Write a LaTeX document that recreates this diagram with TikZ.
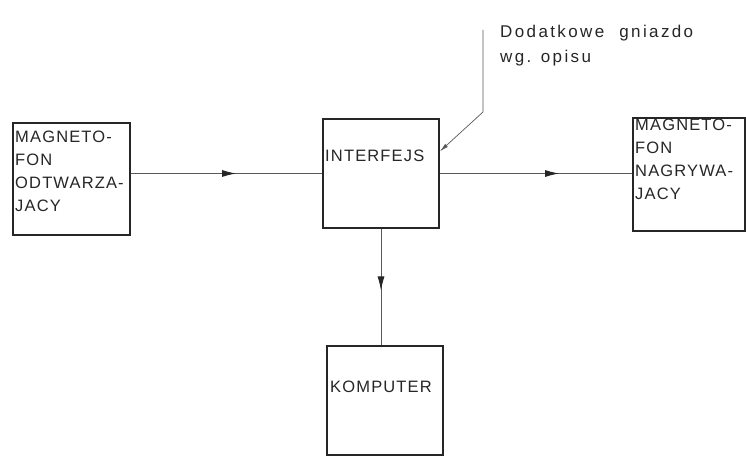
\documentclass[tikz,border=0pt]{standalone}
\usepackage{fontspec}
\setmainfont{Liberation Sans}[LetterSpace=7]
\usetikzlibrary{arrows.meta,decorations.markings}

\begin{document}
\begin{tikzpicture}[x=1pt,y=-1pt,
  box/.style={draw=black!85,line width=1.6pt,inner sep=0pt},
  lbl/.style={anchor=base west,inner sep=0pt,align=left,text=black!85,font=\fontsize{16.5}{23}\selectfont},
  wire/.style={draw=black!65,line width=0.9pt},
  midarrow/.style={postaction={decorate},decoration={markings,
    mark=at position #1 with {\arrow[black!85]{Latex[length=14pt,width=7pt]}}}}]
\useasboundingbox (0,0) rectangle (746,457);
%\draw[help lines,step=50] (0,0) grid (746,457);
% bloki
\node [box,minimum width=117pt,minimum height=112pt] (odtw) at (71.5,179) {};
\node [box,minimum width=116pt,minimum height=109pt] (interfejs) at (381,173.5) {};
\node [box,minimum width=112pt,minimum height=113pt] (nagr) at (689,174.5) {};
\node [box,minimum width=116pt,minimum height=109pt] (komputer) at (385,400.5) {};
% napisy (base = ostatnia linia)
\node [lbl] (todtw) at (15,211) {MAGNETO-\\FON\\ODTWARZA-\\JACY};
\node [lbl] (tinterfejs) at (325,162) {INTERFEJS};
\node [lbl] (tnagr) at (635,199) {MAGNETO-\\FON\\NAGRYWA-\\JACY};
\node [lbl] (tkomputer) at (330,392) {KOMPUTER};
\node [lbl,font=\fontsize{17}{25}\selectfont\addfontfeature{LetterSpace=14}] (opis) at (500,63) {Dodatkowe\hspace{8pt} gniazdo\\wg. opisu};
% polaczenia
\draw [wire,midarrow=0.55] (interfejs.west -| odtw.east) -- (interfejs.west);
\draw [wire,midarrow=0.62] (interfejs.east) -- (interfejs.east -| nagr.west);
\draw [wire,midarrow=0.53] (interfejs.south) -- (interfejs.south |- komputer.north);
\coordinate (gora) at (483,30);
\coordinate (zalom) at (483,112);
\draw [wire,line width=0.7pt,-{Latex[length=9pt,width=4pt]}] (gora) -- (zalom) -- ([yshift=22pt]interfejs.east);
\end{tikzpicture}
\end{document}
